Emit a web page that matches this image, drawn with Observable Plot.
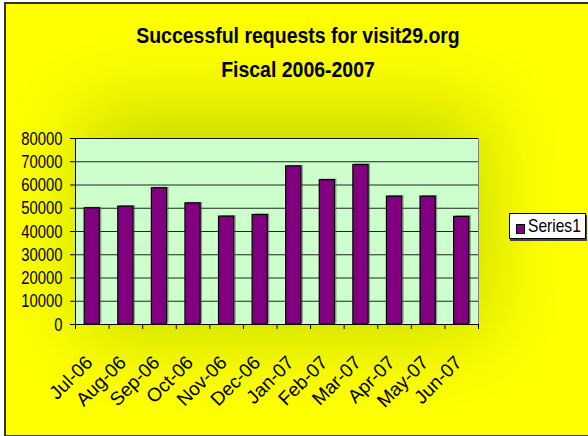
<!DOCTYPE html>
<html>
<head>
<meta charset="utf-8">
<script src="https://cdn.jsdelivr.net/npm/d3@7"></script>
<script src="https://cdn.jsdelivr.net/npm/@observablehq/plot@0.6"></script>
<style>
  html, body { margin: 0; padding: 0; background: #fff; }
  #wrap { position: relative; width: 588px; height: 436px; overflow: hidden; font-family: "Liberation Sans", Arial, sans-serif; }
  #bg { position: absolute; left: 4px; top: 2px; width: 600px; height: 431px; border: 2px solid #333; overflow: hidden;
        background: #ffff00; }
  #glow { position: absolute; left: 105px; top: 136px; width: 345px; height: 165px;
          box-shadow: 0 0 80px 30px #c4da00; background: #c4da00; }
  #title { position: absolute; left: 0; top: 19px; width: 596px; text-align: center; font-weight: bold;
           font-size: 22px; line-height: 34px; transform: scaleX(0.885); transform-origin: 298px 0; }
  #chart { position: absolute; left: 0; top: 0; }
  #legend { position: absolute; left: 509px; top: 213px; width: 75px; height: 24px; background: #fff;
            border: 1px solid #000; box-shadow: 1px 2px 0 #444; }
  #swatch { position: absolute; left: 6px; top: 10px; width: 7px; height: 8px; background: #800080; border: 1px solid #000; }
  #ltext { position: absolute; left: 18px; top: 1px; font-size: 19px; line-height: 22px; transform: scaleX(0.82); transform-origin: 0 0; white-space: nowrap; }
</style>
</head>
<body>
<div id="wrap">
  <div id="bg"><div id="glow"></div></div>
  <div id="title">Successful requests for visit29.org<br>Fiscal 2006-2007</div>
  <div id="chart"></div>
  <div id="legend"><div id="swatch"></div><div id="ltext">Series1</div></div>
</div>
<script>
const months = ["Jul-06","Aug-06","Sep-06","Oct-06","Nov-06","Dec-06","Jan-07","Feb-07","Mar-07","Apr-07","May-07","Jun-07"];
const requests = [50000, 50700, 58600, 52100, 46400, 47100, 68000, 62100, 68600, 55000, 55000, 46300];
const yTicks = [0, 10000, 20000, 30000, 40000, 50000, 60000, 70000, 80000];
const seriesName = "Series1";

const data = months.map((m, i) => ({i, month: m, value: requests[i]}));
const boundaries = d3.range(months.length + 1);
const centers = months.map((m, i) => i + 0.5);

const chart = Plot.plot({
  width: 588,
  height: 436,
  marginLeft: 75,
  marginRight: 110,
  marginTop: 138,
  marginBottom: 112,
  style: {background: "transparent", fontFamily: "'Liberation Sans', Arial, sans-serif", fontSize: "19px", color: "#000"},
  x: {type: "linear", domain: [0, months.length]},
  y: {domain: [0, 80000]},
  marks: [
    Plot.frame({fill: "#ccffcc", stroke: "#808080"}),
    Plot.gridY(yTicks, {stroke: "#000", strokeOpacity: 0.85}),
    Plot.rect(data, {x1: "i", x2: d => d.i + 1, y1: 0, y2: "value", insetLeft: 9.2, insetRight: 9.2,
      fill: "#555", fillOpacity: 0.55, dx: 2, dy: -1}),
    Plot.rect(data, {x1: "i", x2: d => d.i + 1, y1: 0, y2: "value", insetLeft: 9.2, insetRight: 9.2,
      fill: "#800080", stroke: "#000", strokeWidth: 1.2}),
    Plot.ruleX([0], {stroke: "#000"}),
    Plot.ruleY([0], {stroke: "#000"}),
    Plot.axisY({ticks: yTicks, tickSize: 5, tickPadding: 8, tickFormat: d3.format("d"), label: null, fontSize: 19}),
    Plot.axisX({ticks: boundaries, tickSize: 5, tickFormat: () => "", label: null}),
    Plot.axisX({ticks: centers, tickFormat: d => months[Math.floor(d)], tickRotate: -45, tickSize: 0, tickPadding: 35, dx: -3, label: null, fontSize: 19})
  ]
});
document.getElementById("chart").appendChild(chart);
document.getElementById("ltext").textContent = seriesName;

// condense the y tick labels to match the narrow rendering of the original
chart.querySelectorAll('g[aria-label="y-axis tick label"] text').forEach(t => {
  const w = t.getComputedTextLength();
  if (w > 0) {
    t.setAttribute("textLength", (w * 0.78).toFixed(2));
    t.setAttribute("lengthAdjust", "spacingAndGlyphs");
  }
});
</script>
</body>
</html>
